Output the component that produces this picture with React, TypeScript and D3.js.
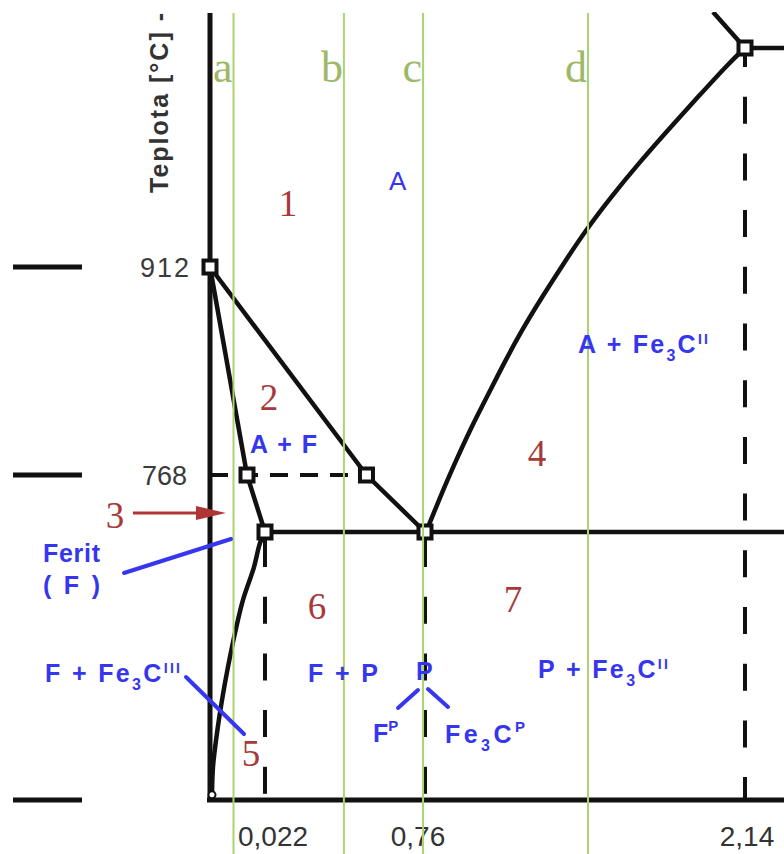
import React from 'react';
import * as d3 from 'd3';

// ---- data ----
// carbon axis in wt.% C, temperature axis in °C — the original draws both on non‑uniform scales
const carbonBreaks = [0, 0.022, 0.76, 2.14, 2.31];
const tempBreaks = [0, 727, 768, 912, 1148, 1187];

const carbonTickValues = [0.022, 0.76, 2.14];
const carbonTickLabels = ['0,022', '0,76', '2,14'];
const tempTickValues = [912, 768, 0];
const tempTickLabels = ['912', '768', ''];

const specimenNames = ['a', 'b', 'c', 'd'];
const specimenCarbon = [0.0094, 0.386, 0.751, 1.463];

const gpCarbon = [0, 0.0148, 0.022];
const gpTemp = [912, 768, 727];
const gosCarbon = [0, 0.49, 0.76];
const gosTemp = [912, 768, 727];
const pqCarbon = [0.022, 0.02, 0.0176, 0.0132, 0.01, 0.0072, 0.0048, 0.0028, 0.0012, 0.0008];
const pqTemp = [727, 697, 632, 543, 453, 361, 271, 182, 90, 14];
const seCarbon = [0.76, 0.769, 0.825, 0.889, 0.954, 1.027, 1.101, 1.178, 1.265, 1.359, 1.454, 1.562, 1.683, 1.808, 1.937, 2.071, 2.14];
const seTemp = [727, 728.4, 752.2, 776.3, 799.2, 822, 845.6, 868.4, 891.3, 916.3, 951.9, 987.4, 1024.1, 1059.6, 1095.2, 1131.8, 1148];
const liqCarbon = [2.14, 2.002];
const liqTemp = [1148, 1187];
const eutectoidCarbon = [0.022, 2.31];
const eutectoidTemp = 727;
const ledeburCarbon = [2.14, 2.31];
const ledeburTemp = 1148;
const curieCarbon = [0, 0.49];
const curieTemp = 768;
const pointCarbon = [0, 0.0148, 0.49, 0.022, 0.76, 2.14];
const pointTemp = [912, 768, 768, 727, 727, 1148];
const dropCarbon = [0.022, 0.76, 2.14];
const dropTemp = [727, 727, 1148];

const W = 784;
const H = 854;

const x = d3.scaleLinear().domain(carbonBreaks).range([210, 265, 425, 745, 784]);
const y = d3.scaleLinear().domain(tempBreaks).range([800, 532, 475, 267, 48, 12]);

const zip = (cs: number[], ts: number[]): [number, number][] => cs.map((c, i) => [c, ts[i]]);
const straight = d3.line<[number, number]>().x(d => x(d[0])).y(d => y(d[1]));
const smooth = d3
  .line<[number, number]>()
  .x(d => x(d[0]))
  .y(d => y(d[1]))
  .curve(d3.curveCatmullRom.alpha(0.5));
const soft = d3
  .line<[number, number]>()
  .x(d => x(d[0]))
  .y(d => y(d[1]))
  .curve(d3.curveBasis);

const BLACK = '#111';
const GREEN = '#a9d46f';
const GREEN_TXT = '#9db867';
const RED = '#a8393a';
const BLUE = '#3636ef';
const SANS = '"Liberation Sans", Arial, sans-serif';
const SERIF = '"Liberation Serif", "Times New Roman", serif';

const sub = (t: string, size = 16, d = 8) => [
  <tspan key={t + 's'} dy={d} fontSize={size}>{t}</tspan>,
];

export default function App() {
  const top = y(tempBreaks[tempBreaks.length - 1]);
  const bottom = y(0);
  const left = x(0);
  const right = x(carbonBreaks[carbonBreaks.length - 1]);

  const blueText = { fill: BLUE, fontFamily: SANS, fontWeight: 700, fontSize: 25 } as const;

  return (
    <svg
      width={W}
      height={H}
      viewBox={`0 0 ${W} ${H}`}
      style={{ position: 'absolute', left: 0, top: 0, background: '#fff' }}
    >
      <defs>
        <clipPath id="plot">
          <rect x={left - 4} y={top} width={right - left + 4} height={bottom - top + 4} />
        </clipPath>
      </defs>
      <rect width={W} height={H} fill="#fff" />

      {/* left temperature ticks */}
      {tempTickValues.map((t, i) => (
        <g key={'tt' + i}>
          <line x1={13} x2={82} y1={y(t)} y2={y(t)} stroke={BLACK} strokeWidth={5} />
          {tempTickLabels[i] && (
            <text
              x={i === 0 ? 191 : 187}
              y={y(t) + 10}
              textAnchor="end"
              fontFamily={SANS}
              fontSize={27}
              fill="#3a3a3a"
              letterSpacing={i === 0 ? 2 : 0}
            >
              {tempTickLabels[i]}
            </text>
          )}
        </g>
      ))}

      {/* y axis title */}
      <text
        transform="translate(168,193) rotate(-90)"
        fontFamily={SANS}
        fontWeight={700}
        fontSize={25}
        fill="#333"
        textLength={180}
        lengthAdjust="spacing"
      >
        Teplota [°C] -
      </text>

      {/* axes */}
      <line x1={left} x2={left} y1={top + 1} y2={bottom + 2} stroke={BLACK} strokeWidth={5} />
      <line x1={left - 3} x2={right} y1={bottom} y2={bottom} stroke={BLACK} strokeWidth={5} />

      {/* bottom tick labels */}
      {carbonTickValues.map((c, i) => (
        <text
          key={'ct' + i}
          x={[273, 418, 747][i]}
          y={846}
          textAnchor="middle"
          fontFamily={SANS}
          fontSize={28}
          fill="#333"
        >
          {carbonTickLabels[i]}
        </text>
      ))}

      <g clipPath="url(#plot)" fill="none" stroke={BLACK} strokeWidth={4.5} strokeLinejoin="round">
        {/* dashed guides */}
        <path
          d={straight([[curieCarbon[0], curieTemp], [curieCarbon[1], curieTemp]])!}
          strokeDasharray="18 12"
          strokeWidth={4}
        />
        {dropCarbon.map((c, i) => (
          <path
            key={'dv' + i}
            d={straight([[c, dropTemp[i]], [c, 0]])!}
            strokeDasharray="27 29.7"
            strokeDashoffset={i === 2 ? 8 : -8}
            strokeWidth={4}
          />
        ))}
        {/* phase boundaries */}
        <path d={straight(zip(gpCarbon, gpTemp))!} />
        <path d={straight(zip(gosCarbon, gosTemp))!} />
        <path d={smooth(zip(pqCarbon, pqTemp))!} />
        <path d={soft(zip(seCarbon, seTemp))!} />
        <path d={straight(zip(liqCarbon, liqTemp))!} />
        <path d={straight([[eutectoidCarbon[0], eutectoidTemp], [eutectoidCarbon[1], eutectoidTemp]])!} />
        <path d={straight([[ledeburCarbon[0], ledeburTemp], [ledeburCarbon[1], ledeburTemp]])!} />
      </g>

      {/* characteristic points */}
      {pointCarbon.map((c, i) => (
        <rect
          key={'p' + i}
          x={x(c) - 6.5}
          y={y(pointTemp[i]) - 6.5}
          width={13}
          height={13}
          fill="#fff"
          stroke={BLACK}
          strokeWidth={4}
        />
      ))}
      <circle
        cx={x(pqCarbon[pqCarbon.length - 1])}
        cy={y(pqTemp[pqTemp.length - 1])}
        r={3.5}
        fill="#fff"
        stroke={BLACK}
        strokeWidth={2}
      />

      {/* specimen lines a–d */}
      {specimenCarbon.map((c, i) => (
        <g key={'s' + i}>
          <line x1={x(c)} x2={x(c)} y1={top + 1} y2={H} stroke={GREEN} strokeWidth={2} />
          <text
            x={x(c) - 1}
            y={82}
            textAnchor="end"
            fontFamily={SERIF}
            fontSize={44}
            fill={GREEN_TXT}
          >
            {specimenNames[i]}
          </text>
        </g>
      ))}

      {/* red region numbers */}
      <g fontFamily={SERIF} fontSize={37} fill={RED} textAnchor="middle">
        <text x={288} y={216}>1</text>
        <text x={269} y={410}>2</text>
        <text x={115} y={528}>3</text>
        <text x={537} y={466}>4</text>
        <text x={251} y={766}>5</text>
        <text x={317} y={619}>6</text>
        <text x={513} y={612}>7</text>
      </g>
      <line x1={133} x2={200} y1={513} y2={513} stroke="#b03535" strokeWidth={3} />
      <polygon points="196,506 226,513 196,520" fill="#b03535" />

      {/* blue leader lines */}
      <g stroke={BLUE} strokeWidth={4} strokeLinecap="round">
        <line x1={124} y1={573} x2={231} y2={539} />
        <line x1={186} y1={677} x2={244} y2={734} />
        <line x1={418} y1={690} x2={398} y2={708} />
        <line x1={428} y1={689} x2={448} y2={707} />
      </g>

      {/* blue phase labels */}
      <text x={389} y={190} fill={BLUE} fontFamily={SANS} fontSize={26}>A</text>
      <text {...blueText} x={578} y={353} textLength={130} lengthAdjust="spacing">
        A + Fe{sub('3')}
        <tspan dy={-8}>C</tspan>
        <tspan dy={-9} fontSize={14}>II</tspan>
      </text>
      <text {...blueText} x={250} y={453} textLength={67} lengthAdjust="spacing">A + F</text>
      <text {...blueText} x={43} y={562} textLength={57} lengthAdjust="spacing">Ferit</text>
      <text {...blueText} x={43} y={594} textLength={57} lengthAdjust="spacing">( F )</text>
      <text {...blueText} x={45} y={682} textLength={135} lengthAdjust="spacing">
        F + Fe{sub('3')}
        <tspan dy={-8}>C</tspan>
        <tspan dy={-9} fontSize={14}>III</tspan>
      </text>
      <text {...blueText} x={308} y={682} textLength={70} lengthAdjust="spacing">F + P</text>
      <text {...blueText} x={416} y={680}>P</text>
      <text {...blueText} x={373} y={742}>
        F<tspan dy={-11} fontSize={15}>P</tspan>
      </text>
      <text {...blueText} x={445} y={743} textLength={80} lengthAdjust="spacing">
        Fe{sub('3')}
        <tspan dy={-8}>C</tspan>
        <tspan dy={-11} fontSize={15}>P</tspan>
      </text>
      <text {...blueText} x={538} y={678} textLength={130} lengthAdjust="spacing">
        P + Fe{sub('3')}
        <tspan dy={-8}>C</tspan>
        <tspan dy={-9} fontSize={14}>II</tspan>
      </text>
    </svg>
  );
}
